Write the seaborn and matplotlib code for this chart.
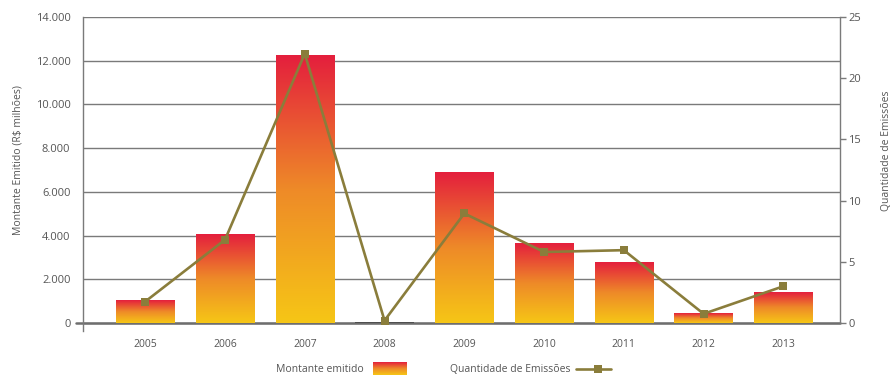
import numpy as np
import matplotlib
matplotlib.use("Agg")
import matplotlib.pyplot as plt
import seaborn as sns
from matplotlib.colors import LinearSegmentedColormap
from matplotlib.ticker import FuncFormatter, MultipleLocator
from matplotlib.lines import Line2D

# Emissões por ano
anos = ["2005", "2006", "2007", "2008", "2009", "2010", "2011", "2012", "2013"]
montante = [1020, 4030, 12260, 30, 6880, 3630, 2750, 425, 1385]   # R$ milhões
quantidade = [1.75, 6.8, 22.0, 0.2, 8.95, 5.8, 5.95, 0.75, 3.0]    # nº de emissões

sns.set_theme(style="white")
plt.rcParams["font.family"] = ["Open Sans", "DejaVu Sans"]

TXT = "#555555"
GRID = "#7a7a7a"
LINE = "#8a7d3b"
grad = LinearSegmentedColormap.from_list(
    "montante", ["#f6c616", "#ee8a28", "#e41f3d"])

fig = plt.figure(figsize=(8.94, 3.76), dpi=100)
ax1 = fig.add_axes([83 / 894, 1 - 331 / 376, (840 - 83) / 894, (331 - 17) / 376])
ax2 = ax1.twinx()

sns.barplot(x=anos, y=montante, ax=ax1, color="#4f4f4f", width=0.73,
            saturation=1, linewidth=0, edgecolor="none", zorder=3)

xlim = (-0.78, 8.71)
ylim1 = (-366, 14000)

# Degradê vermelho→amarelo em cada barra
g = np.linspace(0, 1, 256).reshape(-1, 1)
for p in ax1.patches:
    h = p.get_height()
    if h < 100:
        continue
    x0 = p.get_x()
    w = p.get_width()
    p.set_facecolor("none")
    ax1.imshow(g, cmap=grad, origin="lower", aspect="auto",
               extent=[x0, x0 + w, 0, h], zorder=2, interpolation="bilinear")

ax1.set_xlim(*xlim)
ax1.set_ylim(*ylim1)
ax1.set_axisbelow(True)
ax1.yaxis.set_major_locator(MultipleLocator(2000))
ax1.yaxis.set_major_formatter(
    FuncFormatter(lambda v, _: f"{int(v):,}".replace(",", ".")))
ax1.grid(axis="y", color=GRID, linewidth=1.0)
ax1.grid(axis="x", visible=False)
ax1.axhline(0, color="#6e6e6e", linewidth=1.8, zorder=1.5,
            xmin=-0.009, clip_on=False)

ax1.set_xticks(range(len(anos)))
ax1.set_xticklabels(anos)
ax1.tick_params(axis="x", length=0, pad=6, labelsize=7.5, labelcolor=TXT)
ax1.tick_params(axis="y", length=0, pad=9, labelsize=8, labelcolor=TXT)
ax1.set_xlabel("")
ax1.set_ylabel("Montante Emitido (R$ milhões)", fontsize=7.5, color=TXT)
ax1.yaxis.set_label_coords(-59 / 757, (331 - 160) / 314)

for s in ["top", "bottom", "right"]:
    ax1.spines[s].set_visible(False)
ax1.spines["left"].set_color(GRID)
ax1.spines["left"].set_linewidth(1.0)

# Linha de quantidade de emissões (eixo direito)
sns.lineplot(x=np.arange(len(anos)), y=quantidade, ax=ax2, color=LINE,
             linewidth=1.9, marker="s", markersize=6, markeredgewidth=0,
             markerfacecolor=LINE, zorder=5)
ax2.set_xlim(*xlim)
ax2.set_ylim(-8 / 12.24, 25)
ax2.yaxis.set_major_locator(MultipleLocator(5))
ax2.tick_params(axis="y", length=4, width=1, color=GRID, pad=2,
                labelsize=8, labelcolor=TXT)
ax2.set_ylabel("Quantidade de Emissões", fontsize=7.5, color=TXT, rotation=90)
ax2.yaxis.set_label_coords(1 + 41 / 757, (331 - 151) / 314)
for s in ["top", "bottom", "left"]:
    ax2.spines[s].set_visible(False)
ax2.spines["right"].set_color(GRID)
ax2.spines["right"].set_linewidth(1.0)
ax2.spines["right"].set_bounds(0, 25)
ax2.grid(False)

# Legenda
fig.text(364 / 894, 1 - 369 / 376, "Montante emitido", ha="right", va="center",
         fontsize=7.5, color=TXT)
lax = fig.add_axes([373 / 894, 1 - 375 / 376, 34 / 894, 13 / 376])
lax.imshow(g, cmap=grad, origin="lower", aspect="auto", interpolation="bilinear")
lax.set_axis_off()
fig.text(570 / 894, 1 - 369 / 376, "Quantidade de Emissões", ha="right",
         va="center", fontsize=7.5, color=TXT)
fig.add_artist(Line2D([576 / 894, 611 / 894], [1 - 369 / 376] * 2,
                      transform=fig.transFigure, color=LINE, linewidth=1.9))
fig.add_artist(Line2D([598 / 894], [1 - 369 / 376], transform=fig.transFigure,
                      color=LINE, marker="s", markersize=6, markeredgewidth=0))

fig.savefig("out.png", dpi=100)
